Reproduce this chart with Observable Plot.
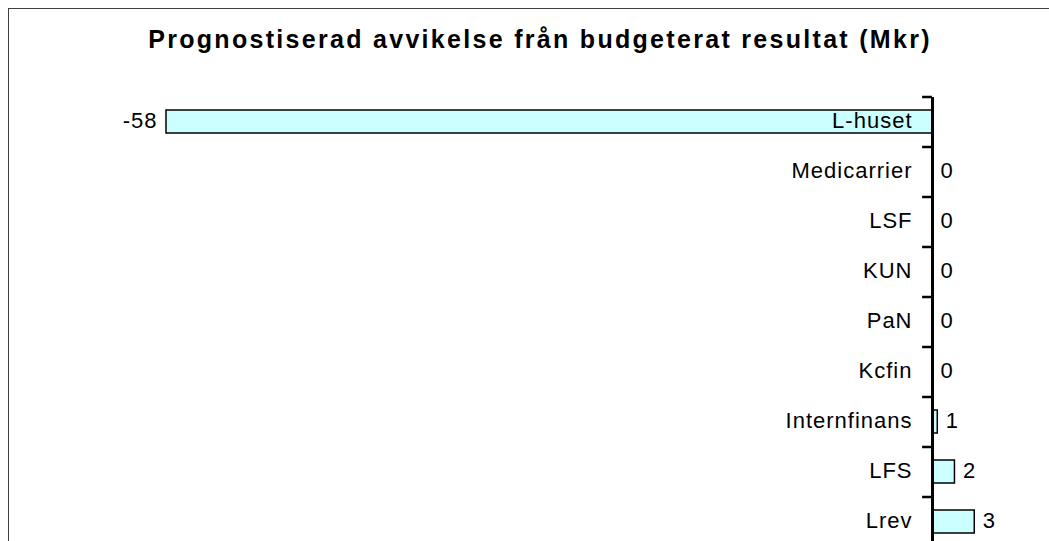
<!DOCTYPE html>
<html>
<head>
<meta charset="utf-8">
<script src="https://cdn.jsdelivr.net/npm/d3@7"></script>
<script src="https://cdn.jsdelivr.net/npm/@observablehq/plot@0.6"></script>
<style>
  html, body { margin: 0; padding: 0; background: #fff; overflow: hidden; width: 1049px; height: 541px; }
  #frame { position: absolute; left: 8px; top: 8px; width: 1100px; height: 600px; border: 1px solid #404040; box-sizing: border-box; }
  #title { position: absolute; left: 0; top: 27px; width: 1080px; text-align: center; font: bold 25px "Liberation Sans", Arial, sans-serif; line-height: 25px; letter-spacing: 2.3px; color: #000; }
  #chart { position: absolute; left: 0; top: 0; }
  #chart text { letter-spacing: 1px; }
</style>
</head>
<body>
<div id="frame"></div>
<div id="chart"></div>
<div id="title">Prognostiserad avvikelse från budgeterat resultat (Mkr)</div>
<script>
const categories = ["L-huset", "Medicarrier", "LSF", "KUN", "PaN", "Kcfin", "Internfinans", "LFS", "Lrev"];
const values = [-58, 0, 0, 0, 0, 0, 0.4, 1.7, 3.2];
const valueLabels = ["-58", "0", "0", "0", "0", "0", "1", "2", "3"];

const data = categories.map((c, i) => ({cat: c, value: values[i], label: valueLabels[i]}));

const chart = Plot.plot({
  width: 1049,
  height: 547,
  marginTop: 97,
  marginBottom: 0,
  marginLeft: 0,
  marginRight: 0,
  style: {fontFamily: "'Liberation Sans', Arial, sans-serif", background: "transparent", color: "#000"},
  x: {domain: [-58, 0], range: [166, 932], axis: null},
  y: {domain: categories, paddingInner: 0.54, paddingOuter: 0.27, axis: null},
  marks: [
    Plot.barX(data, {x: "value", y: "cat", fill: "#ccffff", stroke: "#000", strokeWidth: 1.5}),
    Plot.ruleY(data, {y: "cat", x1: -0.75, x2: 0, dy: -25, stroke: "#000", strokeWidth: 2.5}),
    Plot.ruleX([0], {stroke: "#000", strokeWidth: 3}),
    Plot.text(data, {x: 0, y: "cat", text: "cat", textAnchor: "end", dx: -20, dy: -1, fontSize: 22, fill: "#000"}),
    Plot.text(data.filter(d => d.value >= 0), {x: "value", y: "cat", text: "label", textAnchor: "start", dx: 8, dy: -1, fontSize: 22, fill: "#000"}),
    Plot.text(data.filter(d => d.value < 0), {x: "value", y: "cat", text: "label", textAnchor: "end", dx: -9, dy: -1, fontSize: 22, fill: "#000"})
  ]
});
document.getElementById("chart").appendChild(chart);
</script>
</body>
</html>
